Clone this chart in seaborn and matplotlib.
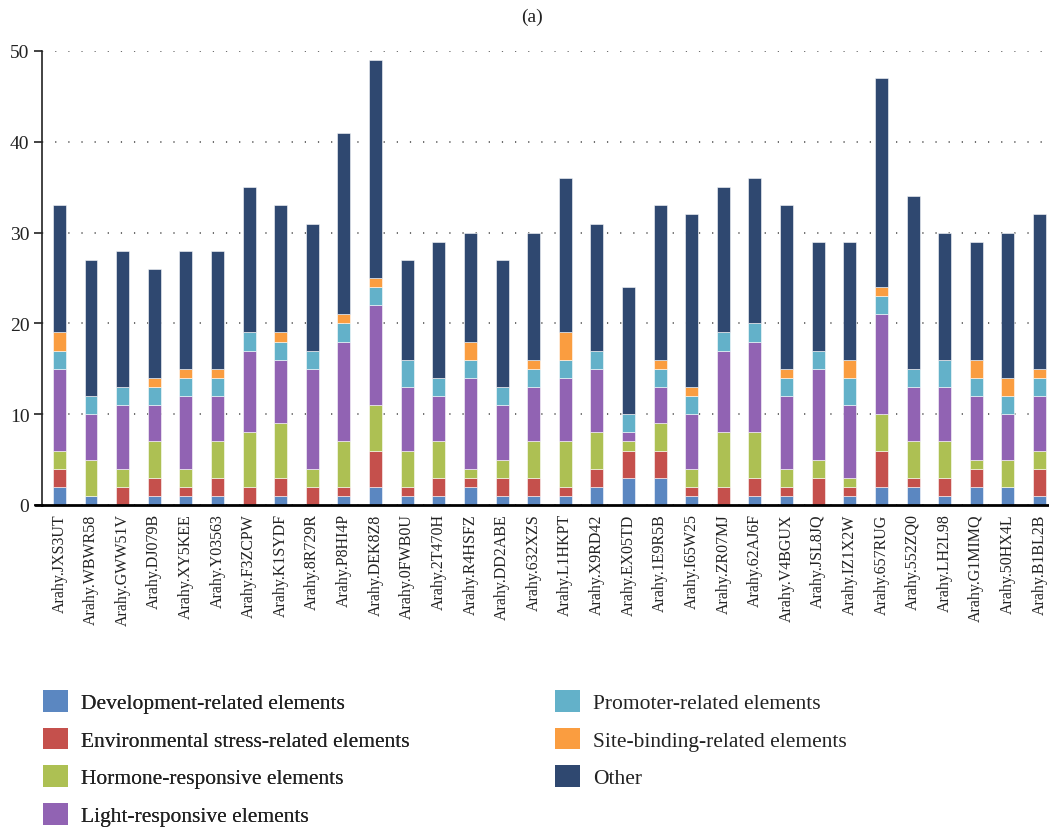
import matplotlib
matplotlib.use("Agg")
import matplotlib.pyplot as plt
from matplotlib.patches import Patch
from matplotlib.lines import Line2D
import numpy as np
import seaborn as sns

genes = ["JXS3UT", "WBWR58", "GWW51V", "DJ079B", "XY5KEE", "Y03563", "F3ZCPW",
         "K1SYDF", "8R729R", "P8HI4P", "DEK8Z8", "0FWB0U", "2T470H", "R4HSFZ",
         "DD2ABE", "632XZS", "L1HKPT", "X9RD42", "EX05TD", "1E9R5B", "I65W25",
         "ZR07MJ", "62AJ6F", "V4BGUX", "JSL8JQ", "IZ1X2W", "657RUG", "552ZQ0",
         "LH2L98", "G1MIMQ", "50HX4L", "B1BL2B"]
gene_labels = ["Arahy." + g for g in genes]

development = [2, 1, 0, 1, 1, 1, 0, 1, 0, 1, 2, 1, 1, 2, 1, 1, 1, 2, 3, 3, 1, 0, 1, 1, 0, 1, 2, 2, 1, 2, 2, 1]
env_stress  = [2, 0, 2, 2, 1, 2, 2, 2, 2, 1, 4, 1, 2, 1, 2, 2, 1, 2, 3, 3, 1, 2, 2, 1, 3, 1, 4, 1, 2, 2, 0, 3]
hormone     = [2, 4, 2, 4, 2, 4, 6, 6, 2, 5, 5, 4, 4, 1, 2, 4, 5, 4, 1, 3, 2, 6, 5, 2, 2, 1, 4, 4, 4, 1, 3, 2]
light       = [9, 5, 7, 4, 8, 5, 9, 7, 11, 11, 11, 7, 5, 10, 6, 6, 7, 7, 1, 4, 6, 9, 10, 8, 10, 8, 11, 6, 6, 7, 5, 6]
promoter    = [2, 2, 2, 2, 2, 2, 2, 2, 2, 2, 2, 3, 2, 2, 2, 2, 2, 2, 2, 2, 2, 2, 2, 2, 2, 3, 2, 2, 3, 2, 2, 2]
site_bind   = [2, 0, 0, 1, 1, 1, 0, 1, 0, 1, 1, 0, 0, 2, 0, 1, 3, 0, 0, 1, 1, 0, 0, 1, 0, 2, 1, 0, 0, 2, 2, 1]
other       = [14, 15, 15, 12, 13, 13, 16, 14, 14, 20, 24, 11, 15, 12, 14, 14, 17, 14, 14, 17, 19, 16, 16, 18, 12, 13, 23, 19, 14, 13, 16, 17]

categories = ["Development-related elements", "Environmental stress-related elements",
              "Hormone-responsive elements", "Light-responsive elements",
              "Promoter-related elements", "Site-binding-related elements", "Other"]
series = [development, env_stress, hormone, light, promoter, site_bind, other]
colors = ["#5B87C1", "#C5504C", "#ADC053", "#9163B3", "#63B1C9", "#FA9D40", "#2F4870"]

sns.set_theme(style="white")
plt.rcParams["font.family"] = ["Liberation Serif", "DejaVu Serif"]

W, H = 1049, 829
fig = plt.figure(figsize=(W / 100, H / 100), dpi=100)
ax = fig.add_axes([42 / W, 1 - 506 / H, (W - 42) / W, (506 - 52) / H])

# stacked bars, one seaborn layer per element class
bottom = np.zeros(len(genes))
for name, vals, col in zip(categories, series, colors):
    vals = np.asarray(vals, dtype=float)
    sns.barplot(x=gene_labels, y=vals, bottom=bottom, color=col, saturation=1,
                width=0.41, edgecolor=(1, 1, 1, 0.55), linewidth=0.7, ax=ax,
                order=gene_labels)
    bottom = bottom + vals

ax.set_xlim(-0.55, 31.3)
ax.set_ylim(0, 50)
ax.set_yticks([0, 10, 20, 30, 40, 50])
ax.set_axisbelow(True)
ax.yaxis.grid(True, color="#444444", linestyle=(0, (0.8, 7.8)), linewidth=1.1)
ax.xaxis.grid(False)

for s in ["top", "right"]:
    ax.spines[s].set_visible(False)
ax.spines["left"].set_color("#222222")
ax.spines["left"].set_linewidth(1.2)
ax.spines["bottom"].set_color("black")
ax.spines["bottom"].set_linewidth(2)
ax.add_line(Line2D([-0.007, 0], [0, 0], transform=ax.transAxes, color="black",
                   linewidth=2, clip_on=False))

ax.tick_params(axis="y", which="both", left=True, length=6, width=1.2,
               color="#222222", labelsize=14, pad=3, labelcolor="#222222")
ax.tick_params(axis="x", length=0, labelsize=11.5, pad=6, labelcolor="#222222")
ax.set_xticks(range(len(gene_labels)))
ax.set_xticklabels(gene_labels, rotation=90, va="top", ha="center")
ax.set_xlabel("")
ax.set_ylabel("")

fig.text(532 / W, 1 - 17 / H, "(a)", ha="center", va="center", fontsize=14,
         color="#222222")

handles = [Patch(facecolor=c, edgecolor="none") for c in colors]
leg_kw = dict(frameon=False, fontsize=15.5, handlelength=1.16, handleheight=1.16,
              handletextpad=0.6, labelspacing=0.68, borderpad=0, borderaxespad=0,
              loc="upper left", labelcolor="#222222")
leg1 = fig.legend(handles[:4], categories[:4],
                  bbox_to_anchor=(43 / W, 1 - 691 / H), **leg_kw)
fig.add_artist(leg1)
fig.legend(handles[4:], categories[4:],
           bbox_to_anchor=(555 / W, 1 - 691 / H), **leg_kw)

fig.savefig("out.png", dpi=100)
